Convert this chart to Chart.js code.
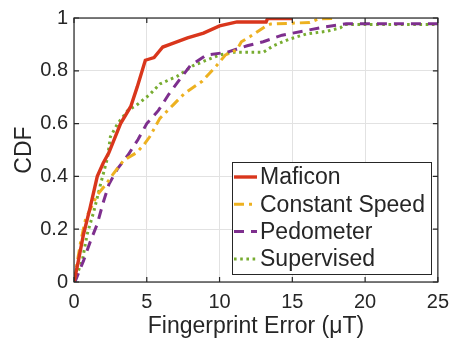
<!DOCTYPE html>
<html>
<head>
<meta charset="utf-8">
<script src="https://cdn.jsdelivr.net/npm/chart.js@4/dist/chart.umd.min.js"></script>
<style>
  html, body { margin: 0; padding: 0; background: #ffffff; }
  #wrap { width: 457px; height: 345px; }
</style>
</head>
<body>
<div id="wrap"><canvas id="cdf" width="457" height="345"></canvas></div>
<script>
// Axis ticks
const xTicks = [0, 5, 10, 15, 20, 25];
const yTicks = [0, 0.2, 0.4, 0.6, 0.8, 1];

// Series names
const seriesNames = ['Maficon', 'Constant Speed', 'Pedometer', 'Supervised'];

// Maficon CDF (error in uT, cumulative fraction)
const maficonX = [0, 0.3, 0.65, 1.1, 1.6, 2.0, 2.4, 3.2, 3.9, 4.35, 4.9, 5.5, 6.1, 6.6, 7.8, 8.9, 10.0, 11.2, 12.0, 13.2, 13.3, 15.0];
const maficonY = [0, 0.08, 0.18, 0.28, 0.40, 0.45, 0.49, 0.60, 0.665, 0.74, 0.84, 0.85, 0.89, 0.90, 0.925, 0.943, 0.97, 0.985, 0.985, 0.985, 0.998, 0.998];

// Constant Speed CDF
const constX = [0, 0.45, 0.8, 1.6, 2.2, 2.7, 3.4, 4.3, 4.8, 5.2, 5.9, 6.8, 7.6, 8.8, 9.3, 9.8, 10.4, 11.2, 11.5, 12.1, 13.2, 13.5, 14.8, 16.2, 16.8, 17.8];
const constY = [0, 0.15, 0.24, 0.33, 0.37, 0.41, 0.46, 0.49, 0.52, 0.55, 0.62, 0.67, 0.715, 0.76, 0.79, 0.82, 0.86, 0.88, 0.91, 0.93, 0.97, 0.977, 0.98, 0.983, 0.997, 0.998];

// Pedometer CDF
const pedoX = [0, 0.1, 0.65, 1.1, 1.6, 2.0, 2.4, 3.0, 3.7, 4.4, 5.0, 5.8, 6.5, 7.3, 8.0, 9.1, 10.5, 11.9, 13.0, 14.3, 17.1, 18.7, 25];
const pedoY = [0, 0.005, 0.08, 0.15, 0.22, 0.30, 0.37, 0.43, 0.48, 0.54, 0.60, 0.65, 0.71, 0.77, 0.82, 0.86, 0.87, 0.895, 0.91, 0.935, 0.965, 0.978, 0.978];

// Supervised CDF
const supX = [0, 0.1, 0.6, 0.9, 1.35, 1.8, 2.3, 2.5, 3.0, 3.7, 4.3, 5.2, 5.9, 7.1, 8.2, 9.1, 10.0, 10.9, 12.5, 13.0, 13.7, 14.8, 16.0, 17.4, 18.3, 18.6, 25];
const supY = [0, 0.01, 0.09, 0.18, 0.265, 0.365, 0.47, 0.55, 0.60, 0.65, 0.67, 0.71, 0.75, 0.78, 0.82, 0.84, 0.86, 0.87, 0.87, 0.87, 0.895, 0.92, 0.94, 0.95, 0.963, 0.975, 0.975];

const toPoints = (xs, ys) => xs.map((x, i) => ({ x: x, y: ys[i] }));

const FONT = "'Liberation Sans', Arial, Helvetica, sans-serif";
const AXIS = '#262626';

// Line styles per series
const styles = [
  { color: '#d9361c', width: 3.4, dash: [] },
  { color: '#edb120', width: 3, dash: [10, 5, 3, 5] },
  { color: '#7e2f8e', width: 3, dash: [10, 7] },
  { color: '#77ac30', width: 3, dash: [2.6, 3.6] }
];

const seriesData = [
  toPoints(maficonX, maficonY),
  toPoints(constX, constY),
  toPoints(pedoX, pedoY),
  toPoints(supX, supY)
];

// Box frame, inward ticks and the boxed legend in the lower right
const framePlugin = {
  id: 'frame',
  afterDraw(chart) {
    const { ctx, chartArea: a, scales } = chart;
    ctx.save();
    ctx.strokeStyle = AXIS;
    ctx.lineWidth = 1.2;
    ctx.setLineDash([]);
    ctx.strokeRect(a.left, a.top, a.right - a.left, a.bottom - a.top);
    const tl = 5;
    ctx.beginPath();
    xTicks.forEach(v => {
      const px = scales.x.getPixelForValue(v);
      ctx.moveTo(px, a.bottom); ctx.lineTo(px, a.bottom - tl);
      ctx.moveTo(px, a.top); ctx.lineTo(px, a.top + tl);
    });
    yTicks.forEach(v => {
      const py = scales.y.getPixelForValue(v);
      ctx.moveTo(a.left, py); ctx.lineTo(a.left + tl, py);
      ctx.moveTo(a.right, py); ctx.lineTo(a.right - tl, py);
    });
    ctx.stroke();

    // legend
    const box = { x: 232, y: 162, w: 199, h: 112 };
    ctx.fillStyle = '#ffffff';
    ctx.fillRect(box.x, box.y, box.w, box.h);
    ctx.strokeStyle = AXIS;
    ctx.lineWidth = 1;
    ctx.strokeRect(box.x + 0.5, box.y + 0.5, box.w, box.h);
    ctx.font = '23px ' + FONT;
    ctx.textBaseline = 'middle';
    ctx.textAlign = 'left';
    chart.data.datasets.forEach((ds, i) => {
      const cy = box.y + 15 + i * 27.3;
      ctx.strokeStyle = ds.borderColor;
      ctx.lineWidth = ds.borderWidth;
      ctx.setLineDash(ds.borderDash || []);
      ctx.beginPath();
      ctx.moveTo(234, cy);
      ctx.lineTo(257, cy);
      ctx.stroke();
      ctx.setLineDash([]);
      ctx.fillStyle = AXIS;
      ctx.fillText(ds.label, 260, cy + 1);
    });
    ctx.restore();
  }
};

new Chart(document.getElementById('cdf'), {
  type: 'line',
  data: {
    datasets: seriesData.map((pts, i) => ({
      label: seriesNames[i],
      data: pts,
      borderColor: styles[i].color,
      backgroundColor: styles[i].color,
      borderWidth: styles[i].width,
      borderDash: styles[i].dash,
      pointRadius: 0,
      tension: 0,
      fill: false
    }))
  },
  options: {
    responsive: false,
    devicePixelRatio: 1,
    animation: false,
    layout: { padding: { left: 0, right: 18, top: 12, bottom: 0 } },
    plugins: { legend: { display: false }, tooltip: { enabled: false } },
    scales: {
      x: {
        type: 'linear', min: 0, max: 25,
        afterBuildTicks: s => { s.ticks = xTicks.map(v => ({ value: v })); },
        ticks: { color: AXIS, font: { family: FONT, size: 20 }, padding: 8, maxRotation: 0 },
        grid: { color: '#e2e2e2', lineWidth: 1, drawTicks: false },
        border: { display: false },
        title: { display: true, text: 'Fingerprint Error (\u03bcT)', color: AXIS,
                 font: { family: FONT, size: 23 }, padding: { top: 0, bottom: 5 } },
        afterFit: s => { s.height = 63; }
      },
      y: {
        type: 'linear', min: 0, max: 1,
        afterBuildTicks: s => { s.ticks = yTicks.map(v => ({ value: v })); },
        ticks: { color: AXIS, font: { family: FONT, size: 20 }, padding: 6,
                 callback: v => String(Math.round(v * 10) / 10) },
        grid: { color: '#e2e2e2', lineWidth: 1, drawTicks: false },
        border: { display: false },
        title: { display: true, text: 'CDF', color: AXIS,
                 font: { family: FONT, size: 23 }, padding: { top: 11, bottom: 0 } },
        afterFit: s => { s.width = 74; }
      }
    }
  },
  plugins: [framePlugin]
});
</script>
</body>
</html>
